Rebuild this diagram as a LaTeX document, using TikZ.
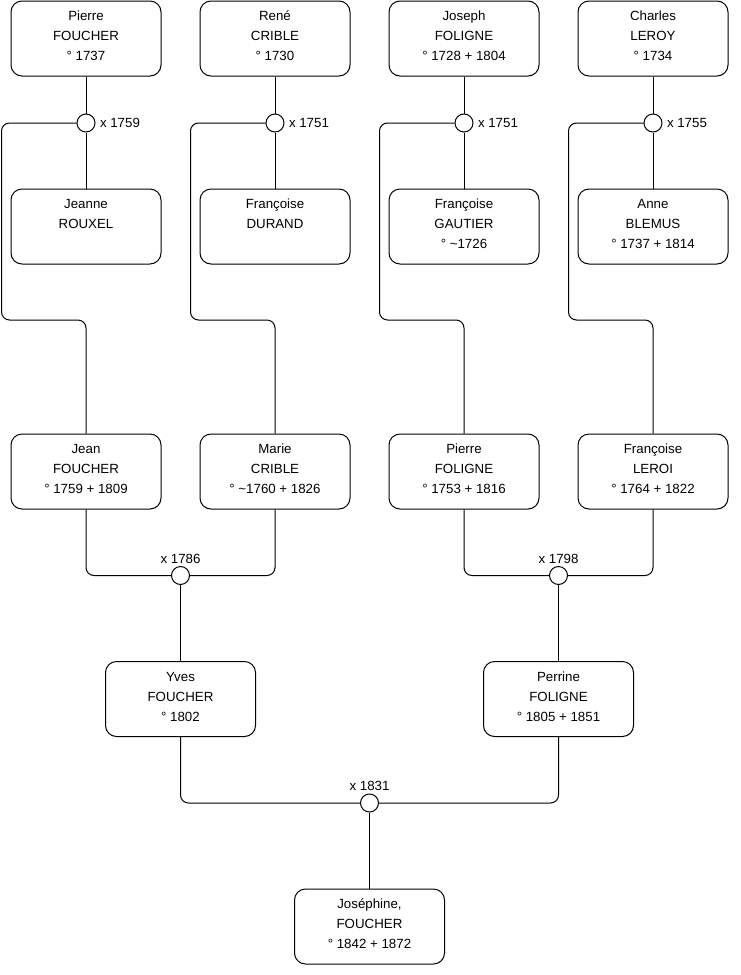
\documentclass[tikz,border=0pt]{standalone}
\usepackage{fontspec}
\setmainfont{Liberation Sans}
\usetikzlibrary{positioning,calc}

\tikzset{
  person/.style={draw,rounded corners=11pt,minimum width=150pt,minimum height=75pt,
    align=center,inner sep=0pt,text height=50pt,text depth=5.5pt,
    font=\fontsize{13.3}{20}\selectfont},
  wedding/.style={draw,circle,fill=white,minimum size=18pt,inner sep=0pt},
  wdate/.style={font=\fontsize{13.3}{15}\selectfont,inner sep=2pt},
  link/.style={rounded corners=8pt}
}

\begin{document}
\begin{tikzpicture}[x=1pt,y=1pt,line width=1pt,node distance=38pt]
  \useasboundingbox (0,0) rectangle (740,-975);
  % great-grandparents (fathers)
  \node[person] (pfoucher) at (86,-38.5) {Pierre\\FOUCHER\\° 1737};
  \node[person,right=of pfoucher] (rcrible) {René\\CRIBLE\\° 1730};
  \node[person,right=of rcrible] (jfoligne) {Joseph\\FOLIGNE\\° 1728 + 1804};
  \node[person,right=of jfoligne] (cleroy) {Charles\\LEROY\\° 1734};
  % first marriages
  \node[wedding,below=37pt of pfoucher] (m1759) {};
  \node[wedding,below=37pt of rcrible] (m1751a) {};
  \node[wedding,below=37pt of jfoligne] (m1751b) {};
  \node[wedding,below=37pt of cleroy] (m1755) {};
  \node[wdate,right=2pt of m1759] (d1759) {x 1759};
  \node[wdate,right=2pt of m1751a] (d1751a) {x 1751};
  \node[wdate,right=2pt of m1751b] (d1751b) {x 1751};
  \node[wdate,right=2pt of m1755] (d1755) {x 1755};
  % wives
  \node[person,below=56pt of m1759] (jrouxel) {Jeanne\\ROUXEL\\\mbox{}};
  \node[person,below=56pt of m1751a] (fdurand) {Françoise\\DURAND\\\mbox{}};
  \node[person,below=56pt of m1751b] (fgautier) {Françoise\\GAUTIER\\° \textasciitilde1726};
  \node[person,below=56pt of m1755] (ablemus) {Anne\\BLEMUS\\° 1737 + 1814};
  % grandparents
  \node[person,below=169pt of jrouxel] (jfoucher) {Jean\\FOUCHER\\° 1759 + 1809};
  \node[person,below=169pt of fdurand] (mcrible) {Marie\\CRIBLE\\° \textasciitilde1760 + 1826};
  \node[person,below=169pt of fgautier] (pfoligne) {Pierre\\FOLIGNE\\° 1753 + 1816};
  \node[person,below=169pt of ablemus] (fleroi) {Françoise\\LEROI\\° 1764 + 1822};
  % second marriages
  \node[wedding] (m1786) at ($(jfoucher.south)!.5!(mcrible.south)+(0,-66)$) {};
  \node[wedding] (m1798) at ($(pfoligne.south)!.5!(fleroi.south)+(0,-66)$) {};
  \node[wdate,above=0pt of m1786] (d1786) {x 1786};
  \node[wdate,above=0pt of m1798] (d1798) {x 1798};
  % parents
  \node[person,below=76pt of m1786] (yfoucher) {Yves\\FOUCHER\\° 1802};
  \node[person,below=76pt of m1798] (pefoligne) {Perrine\\FOLIGNE\\° 1805 + 1851};
  \node[wedding] (m1831) at ($(yfoucher.south)!.5!(pefoligne.south)+(0,-66)$) {};
  \node[wdate,above=0pt of m1831] (d1831) {x 1831};
  \node[person,below=76pt of m1831] (jsfoucher) {Joséphine,\\FOUCHER\\° 1842 + 1872};

  % top couples
  \draw (pfoucher) -- (m1759);
  \draw (m1759) -- (jrouxel);
  \draw[link] (m1759.west) -| ++(-75,-197) -| (jfoucher.north);
  \draw (rcrible) -- (m1751a);
  \draw (m1751a) -- (fdurand);
  \draw[link] (m1751a.west) -| ++(-75,-197) -| (mcrible.north);
  \draw (jfoligne) -- (m1751b);
  \draw (m1751b) -- (fgautier);
  \draw[link] (m1751b.west) -| ++(-75,-197) -| (pfoligne.north);
  \draw (cleroy) -- (m1755);
  \draw (m1755) -- (ablemus);
  \draw[link] (m1755.west) -| ++(-75,-197) -| (fleroi.north);
  % lower couples
  \draw[link] (jfoucher.south) |- (m1786.west);
  \draw[link] (mcrible.south) |- (m1786.east);
  \draw (m1786) -- (yfoucher);
  \draw[link] (pfoligne.south) |- (m1798.west);
  \draw[link] (fleroi.south) |- (m1798.east);
  \draw (m1798) -- (pefoligne);
  \draw[link] (yfoucher.south) |- (m1831.west);
  \draw[link] (pefoligne.south) |- (m1831.east);
  \draw (m1831) -- (jsfoucher);
\end{tikzpicture}
\end{document}
